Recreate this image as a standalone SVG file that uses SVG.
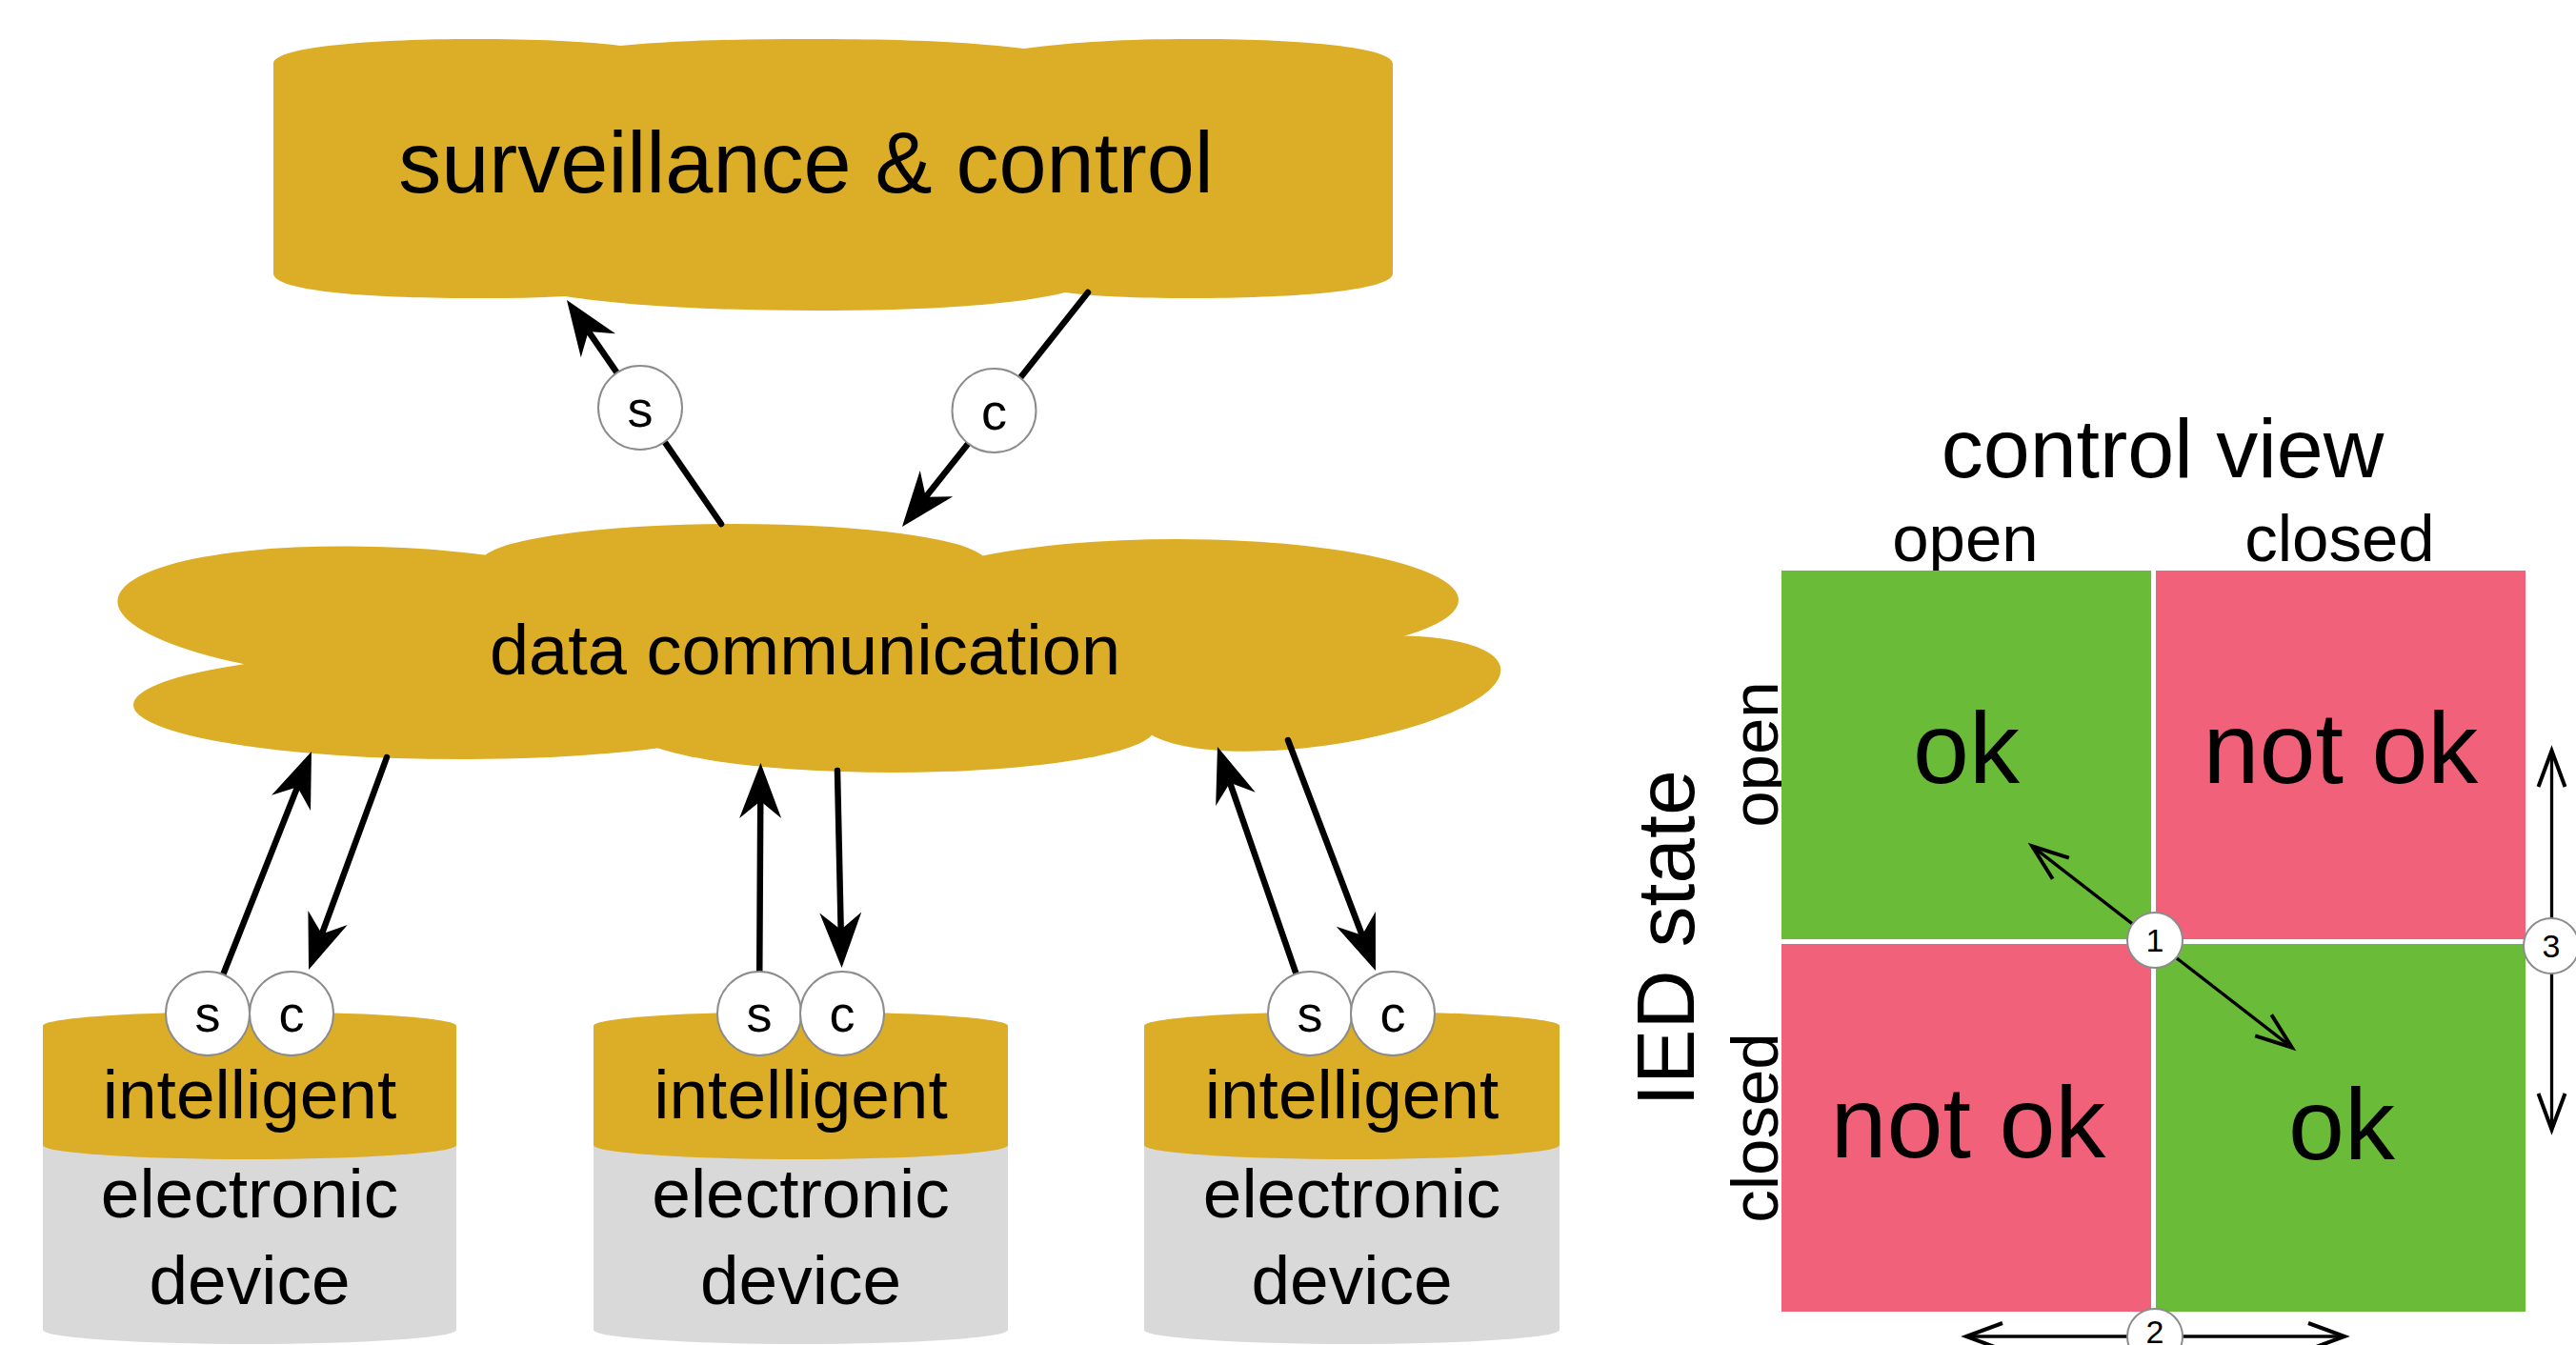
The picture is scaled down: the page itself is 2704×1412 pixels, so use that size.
<svg xmlns="http://www.w3.org/2000/svg" width="2704" height="1412" viewBox="0 0 2704 1412">
  <defs>
    <style>
      text { font-family: "Liberation Sans", Arial, Helvetica, sans-serif; fill: #000; text-anchor: middle; }
      .gold { fill: #DCAD27; }
      .gray { fill: #D9D9D9; }
      .port { fill: #fff; stroke: #8c8c8c; stroke-width: 2; }
      .port-label { font-size: 54px; }
      .flow { fill: none; stroke: #000; stroke-width: 6.5; stroke-linecap: round; marker-end: url(#head); }
      .ok { fill: #6ABC38; }
      .nok { fill: #F16179; }
      .trans { fill: none; stroke: #000; stroke-width: 3.3; marker-start: url(#chev); marker-end: url(#chev); }
      .step { fill: #fff; stroke: #8c8c8c; stroke-width: 2; }
      .step-label { font-size: 34px; }
      .ied-label { font-size: 73px; }
      .cell-label { font-size: 106px; }
      .axis-label { font-size: 69px; }
    </style>
    <!-- filled concave arrowhead; the line stops 30px short of the tip -->
    <marker id="head" markerUnits="userSpaceOnUse" orient="auto" refX="0" refY="0" markerWidth="80" markerHeight="60" overflow="visible">
      <path d="M30,0 L-28,-22 L-10,0 L-28,22 Z" fill="#000"/>
    </marker>
    <!-- open chevron used by the state transitions -->
    <marker id="chev" markerUnits="userSpaceOnUse" orient="auto-start-reverse" refX="0" refY="0" markerWidth="60" markerHeight="40" overflow="visible">
      <path d="M-38,-14 L0,0 L-38,14" fill="none" stroke="#000" stroke-width="4"/>
    </marker>
  </defs>

  <rect width="2704" height="1412" fill="#fff"/>

  <!-- surveillance & control -->
  <g id="surveillance-control">
    <path class="gold" d="M287,287 L287,67 C287,48 400,41 496,41 C570,41 620,44 651,48 C720,42 780,41 850,41 C950,41 1020,44 1075,51 C1130,44 1180,41 1250,41 C1370,41 1462,50 1462,67 L1462,287 C1462,305 1360,313 1250,313 C1190,313 1150,311 1118,307 C1060,322 950,326 855,326 C740,326 650,320 593,311 C560,313 530,313 496,313 C380,313 287,305 287,287 Z"/>
    <text x="846" y="202" font-size="90">surveillance &amp; control</text>
  </g>

  <!-- data communication cloud, built from overlapping lobes -->
  <g id="data-communication">
    <g class="gold">
      <ellipse cx="850" cy="680" rx="600" ry="100"/>
      <ellipse cx="420" cy="646" rx="297" ry="71" transform="rotate(3 420 646)"/>
      <ellipse cx="483" cy="740" rx="343" ry="57"/>
      <ellipse cx="770" cy="590" rx="265" ry="40"/>
      <ellipse cx="937" cy="765" rx="275" ry="46"/>
      <ellipse cx="1235" cy="630" rx="296" ry="64"/>
      <ellipse cx="1385" cy="728" rx="192" ry="55" transform="rotate(-8 1385 728)"/>
    </g>
    <text x="845" y="708" font-size="74">data communication</text>
  </g>

  <!-- status (s) and control (c) flows -->
  <g id="connectors">
    <line class="flow" x1="757" y1="550" x2="612" y2="339.7"/>
    <line class="flow" x1="1142" y1="307" x2="965.6" y2="529.5"/>
    <line class="flow" x1="218" y1="1064" x2="315.9" y2="816.9"/>
    <line class="flow" x1="406" y1="795" x2="334.4" y2="989.8"/>
    <line class="flow" x1="797" y1="1064" x2="798.3" y2="831"/>
    <line class="flow" x1="879" y1="809" x2="882.9" y2="986"/>
    <line class="flow" x1="1375" y1="1064" x2="1287.8" y2="812.4"/>
    <line class="flow" x1="1352" y1="777" x2="1433.3" y2="991"/>
  </g>

  <g id="flow-labels">
    <circle class="port" cx="672" cy="428" r="44"/>
    <text class="port-label" x="672" y="448">s</text>
    <circle class="port" cx="1043.5" cy="431" r="44"/>
    <text class="port-label" x="1043.5" y="451">c</text>
  </g>

  <!-- intelligent electronic devices -->
  <g id="ied-1">
    <rect class="gray" x="45" y="1200" width="434" height="196"/>
    <ellipse class="gray" cx="262" cy="1396" rx="217" ry="15"/>
    <path class="gold" d="M45,1077 A217,15 0 0 1 479,1077 L479,1202 A217,15 0 0 1 45,1202 Z"/>
    <text class="ied-label" x="262" y="1174">intelligent</text>
    <text class="ied-label" x="262" y="1278">electronic</text>
    <text class="ied-label" x="262" y="1369">device</text>
    <circle class="port" cx="218" cy="1064" r="44"/>
    <text class="port-label" x="218" y="1083">s</text>
    <circle class="port" cx="306" cy="1064" r="44"/>
    <text class="port-label" x="306" y="1083">c</text>
  </g>

  <g id="ied-2">
    <rect class="gray" x="623" y="1200" width="435" height="196"/>
    <ellipse class="gray" cx="840.5" cy="1396" rx="217.5" ry="15"/>
    <path class="gold" d="M623,1077 A217.5,15 0 0 1 1058,1077 L1058,1202 A217.5,15 0 0 1 623,1202 Z"/>
    <text class="ied-label" x="840.5" y="1174">intelligent</text>
    <text class="ied-label" x="840.5" y="1278">electronic</text>
    <text class="ied-label" x="840.5" y="1369">device</text>
    <circle class="port" cx="797" cy="1064" r="44"/>
    <text class="port-label" x="797" y="1083">s</text>
    <circle class="port" cx="884" cy="1064" r="44"/>
    <text class="port-label" x="884" y="1083">c</text>
  </g>

  <g id="ied-3">
    <rect class="gray" x="1201" y="1200" width="436" height="196"/>
    <ellipse class="gray" cx="1419" cy="1396" rx="218" ry="15"/>
    <path class="gold" d="M1201,1077 A218,15 0 0 1 1637,1077 L1637,1202 A218,15 0 0 1 1201,1202 Z"/>
    <text class="ied-label" x="1419" y="1174">intelligent</text>
    <text class="ied-label" x="1419" y="1278">electronic</text>
    <text class="ied-label" x="1419" y="1369">device</text>
    <circle class="port" cx="1375" cy="1064" r="44"/>
    <text class="port-label" x="1375" y="1083">s</text>
    <circle class="port" cx="1462" cy="1064" r="44"/>
    <text class="port-label" x="1462" y="1083">c</text>
  </g>

  <!-- control view vs IED state matrix -->
  <g id="state-matrix">
    <text x="2270" y="501" font-size="88">control view</text>
    <text class="axis-label" x="2063" y="589">open</text>
    <text class="axis-label" x="2456" y="589">closed</text>
    <text x="1778" y="985" font-size="86" transform="rotate(-90 1778 985)">IED state</text>
    <text class="axis-label" x="1866" y="792" transform="rotate(-90 1866 792)">open</text>
    <text class="axis-label" x="1866" y="1184" transform="rotate(-90 1866 1184)">closed</text>

    <rect class="ok" x="1870" y="599" width="388" height="387"/>
    <rect class="nok" x="2263" y="599" width="388" height="387"/>
    <rect class="nok" x="1870" y="991" width="388" height="386"/>
    <rect class="ok" x="2263" y="991" width="388" height="386"/>

    <text class="cell-label" x="2064" y="822">ok</text>
    <text class="cell-label" x="2457" y="822">not ok</text>
    <text class="cell-label" x="2066" y="1215">not ok</text>
    <text class="cell-label" x="2458" y="1217">ok</text>
  </g>

  <g id="transitions">
    <line class="trans" x1="2133.2" y1="888.4" x2="2405.8" y2="1099.6"/>
    <line class="trans" x1="2678.5" y1="788" x2="2678.5" y2="1186"/>
    <line class="trans" x1="2064" y1="1403" x2="2461" y2="1403"/>
  </g>

  <g id="transition-labels">
    <circle class="step" cx="2262" cy="987" r="29"/>
    <text class="step-label" x="2262" y="999">1</text>
    <circle class="step" cx="2262" cy="1403" r="29"/>
    <text class="step-label" x="2262" y="1410" font-size="28">2</text>
    <circle class="step" cx="2678" cy="993" r="29"/>
    <text class="step-label" x="2678" y="1005">3</text>
  </g>
</svg>
